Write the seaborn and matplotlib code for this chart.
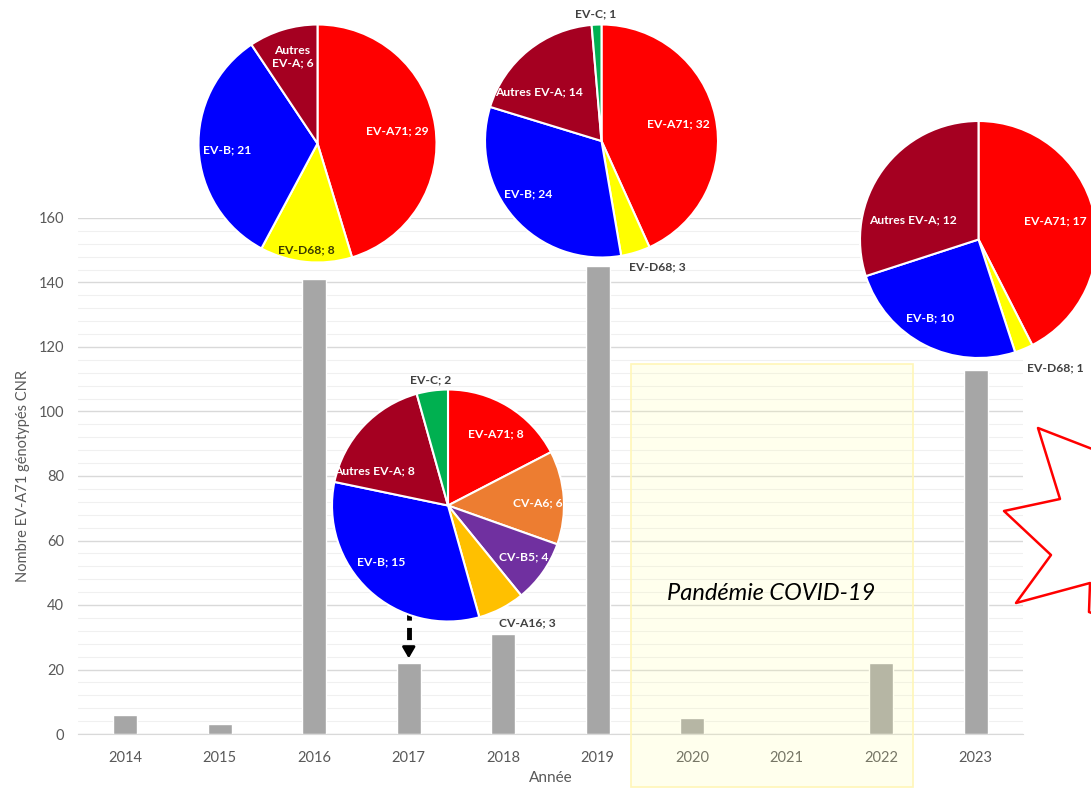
import numpy as np
import pandas as pd
import seaborn as sns
import matplotlib.pyplot as plt
from matplotlib.patches import Rectangle
from matplotlib.lines import Line2D

# ---- data ----
years = ['2014', '2015', '2016', '2017', '2018', '2019', '2020', '2021', '2022', '2023']
counts = [6, 3, 141, 22, 31, 145, 5, 0, 22, 113]

pie2016_names = ['EV-A71', 'EV-D68', 'EV-B', 'Autres\nEV-A']
pie2016_values = [29, 8, 21, 6]

pie2019_names = ['EV-A71', 'EV-D68', 'EV-B', 'Autres EV-A', 'EV-C']
pie2019_values = [32, 3, 24, 14, 1]

pie2023_names = ['EV-A71', 'EV-D68', 'EV-B', 'Autres EV-A']
pie2023_values = [17, 1, 10, 12]

pie2017_names = ['EV-A71', 'CV-A6', 'CV-B5', 'CV-A16', 'EV-B', 'Autres EV-A', 'EV-C']
pie2017_values = [8, 6, 4, 3, 15, 8, 2]

geno_colors = {
    'EV-A71': '#ff0000', 'EV-D68': '#ffff00', 'EV-B': '#0000ff',
    'Autres EV-A': '#a50021', 'EV-C': '#00b050', 'CV-A6': '#ed7d31',
    'CV-B5': '#7030a0', 'CV-A16': '#ffc000',
}

# ---- style ----
sns.set_style('white')
plt.rcParams['font.family'] = ['Lato', 'DejaVu Sans']

W, H = 1091, 790
fig = plt.figure(figsize=(W / 100, H / 100), dpi=100)

# main bar chart
ax = fig.add_axes([78 / W, (H - 734) / H, (1023 - 78) / W, (734 - 218) / H])
ax.set_axisbelow(True)
sns.barplot(x=years, y=counts, color='#a6a6a6', saturation=1, width=0.25, ax=ax)
ax.set_ylim(0, 160)
ax.set_xlim(-0.5, len(years) - 0.5)
ax.set_yticks(range(0, 161, 20))
ax.set_yticks(range(0, 161, 4), minor=True)
ax.grid(axis='y', which='major', color='#d9d9d9', lw=1)
ax.grid(axis='y', which='minor', color='#f0f0f0', lw=0.8)
ax.tick_params(axis='both', which='both', length=0, colors='#595959', labelsize=10.5)
ax.tick_params(axis='y', pad=10)
ax.tick_params(axis='x', pad=12)
for s in ['top', 'right', 'left']:
    ax.spines[s].set_visible(False)
ax.spines['bottom'].set_color('#d9d9d9')
ax.set_ylabel('Nombre EV-A71 génotypés CNR', color='#595959', fontsize=10.5)
ax.set_xlabel('Année', color='#595959', fontsize=11)
ax.yaxis.set_label_coords((30 - 78) / 945, 0.5)
ax.xaxis.set_label_coords(0.5, (734 - 771) / 516)

# COVID window
ax.add_patch(Rectangle((5.35, -16.4), 2.99, 131.1, facecolor='#ffffa0', alpha=0.18,
                       edgecolor='none', clip_on=False, zorder=5))
ax.add_patch(Rectangle((5.35, -16.4), 2.99, 131.1, facecolor='none',
                       edgecolor='#fff6b8', lw=1.2, clip_on=False, zorder=5))
ax.text(6.84, 43.5, 'Pandémie COVID-19', style='italic', fontsize=17,
        ha='center', va='center', color='black', zorder=6)

# dashed arrow towards 2017
ax.plot([3, 3], [39, 27], ls='--', lw=3.5, color='black', dashes=(2.5, 1.5), zorder=6)
ax.annotate('', xy=(3, 22.6), xytext=(3, 27.5),
            arrowprops=dict(arrowstyle='-|>,head_width=0.38,head_length=0.65',
                            color='black', lw=2), zorder=6)

# ---- pies ----
def draw_pie(names, values, cx, cy, r, label_pos, outside=()):
    pax = fig.add_axes([(cx - r) / W, (H - cy - r) / H, 2 * r / W, 2 * r / H])
    cols = [geno_colors[n.replace('\n', ' ')] for n in names]
    pax.pie(values, colors=cols, startangle=90, counterclock=False, radius=1,
            wedgeprops=dict(edgecolor='white', linewidth=1.5))
    pax.set_xlim(-1, 1)
    pax.set_ylim(-1, 1)
    pax.set_aspect('equal')
    pax.axis('off')
    for n, v, (lx, ly) in zip(names, values, label_pos):
        key = n.replace('\n', ' ')
        if n in outside:
            c = '#404040'
        elif key == 'EV-D68':
            c = '#3a3a00'
        else:
            c = 'white'
        pax.text(lx, ly, f'{n}; {v}', ha='center', va='center', fontsize=8.7,
                 fontweight='bold', color=c, linespacing=1.2)
    return pax

draw_pie(pie2016_names, pie2016_values, 317.5, 143.5, 119,
         [(0.67, 0.11), (-0.09, -0.89), (-0.76, -0.05), (-0.21, 0.73)])
draw_pie(pie2019_names, pie2019_values, 601.5, 141, 116.5,
         [(0.66, 0.15), (0.48, -1.08), (-0.63, -0.45), (-0.54, 0.42), (-0.05, 1.09)],
         outside=('EV-D68', 'EV-C'))
draw_pie(pie2023_names, pie2023_values, 978.5, 239.5, 118.5,
         [(0.65, 0.16), (0.65, -1.08), (-0.41, -0.66), (-0.55, 0.17)],
         outside=('EV-D68',))
draw_pie(pie2017_names, pie2017_values, 448, 505.5, 116,
         [(0.41, 0.62), (0.77, 0.02), (0.65, -0.44), (0.68, -1.01),
          (-0.58, -0.49), (-0.63, 0.30), (-0.15, 1.08)],
         outside=('CV-A16', 'EV-C'))

# red callout star partially visible at the right edge
star_px = [(1100, 452), (1038, 428), (1060, 499), (1004, 511), (1051, 555),
           (1016, 603), (1090, 583), (1089, 612), (1100, 616)]
sx = [p[0] / W for p in star_px]
sy = [1 - p[1] / H for p in star_px]
fig.add_artist(Line2D(sx, sy, transform=fig.transFigure, color='#ff0000', lw=1.8))

fig.savefig('out.png', dpi=100)
